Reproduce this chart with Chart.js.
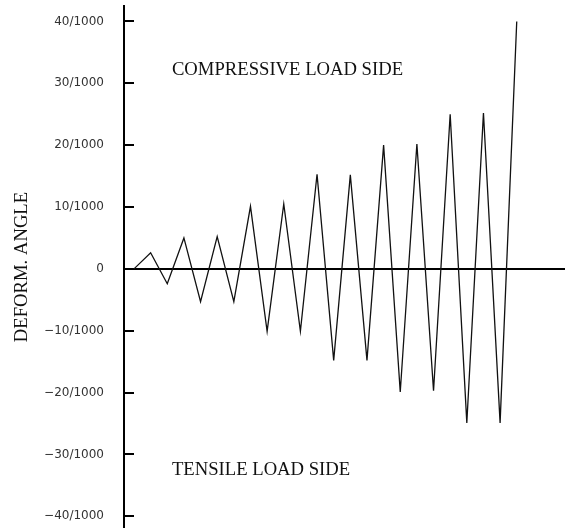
<!DOCTYPE html>
<html>
<head>
<meta charset="utf-8">
<script src="https://cdn.jsdelivr.net/npm/chart.js@4/dist/chart.umd.min.js"></script>
<style>
  html, body { margin: 0; padding: 0; background: #fff; }
  #wrap { width: 565px; height: 528px; }
</style>
</head>
<body>
<div id="wrap"><canvas id="deformChart"></canvas></div>
<script>
// loading steps (x) and deformation angle in 1/1000 rad (y)
const steps = [0, 1, 2, 3, 4, 5, 6, 7, 8, 9, 10, 11, 12, 13, 14, 15, 16, 17, 18, 19, 20, 21, 22, 23];
const angle = [0, 2.6, -2.4, 5.0, -5.3, 5.2, -5.3, 10.1, -10.1, 10.5, -10.1, 15.3, -14.8, 15.2, -14.8,
               20.0, -19.9, 20.2, -19.7, 25.0, -24.9, 25.2, -24.9, 40.0];

const tickValues = [40, 30, 20, 10, 0, -10, -20, -30, -40];
const tickLabels = ['40/1000', '30/1000', '20/1000', '10/1000', '0',
                    '\u221210/1000', '\u221220/1000', '\u221230/1000', '\u221240/1000'];

const sideNotes = [
    { text: 'COMPRESSIVE LOAD SIDE', x: 2.28, y: 32.2 },
    { text: 'TENSILE LOAD SIDE', x: 2.28, y: -32.6 }
];

const serif = '"Liberation Serif", "Times New Roman", serif';

// side labels placed through the scales
const notesPlugin = {
    id: 'sideNotes',
    afterDatasetsDraw(chart) {
        const ctx = chart.ctx;
        const xs = chart.scales.x, ys = chart.scales.y;
        ctx.save();
        ctx.font = '18.67px ' + serif;
        ctx.fillStyle = '#111';
        ctx.textAlign = 'left';
        ctx.textBaseline = 'middle';
        sideNotes.forEach(n => {
            ctx.fillText(n.text, xs.getPixelForValue(n.x), ys.getPixelForValue(n.y));
        });
        ctx.restore();
    }
};

new Chart(document.getElementById('deformChart').getContext('2d'), {
    type: 'line',
    data: {
        datasets: [{
            data: steps.map((s, i) => ({ x: s, y: angle[i] })),
            borderColor: '#111',
            borderWidth: 1.3,
            pointRadius: 0,
            tension: 0,
            fill: false
        }]
    },
    options: {
        responsive: true,
        maintainAspectRatio: false,
        animation: false,
        layout: { padding: { top: 6, right: 0, bottom: 0, left: 0 } },
        plugins: {
            legend: { display: false },
            tooltip: { enabled: false }
        },
        scales: {
            x: {
                type: 'linear',
                display: false,
                min: -0.6,
                max: 25.9
            },
            y: {
                min: -41.9,
                max: 42.5,
                afterBuildTicks: scale => {
                    scale.ticks = tickValues.map(v => ({ value: v }));
                },
                afterFit: scale => {
                    scale.width = 124;
                    scale.paddingTop = 0;
                    scale.paddingBottom = 0;
                },
                border: { display: true, color: '#000', width: 2 },
                grid: {
                    drawTicks: true,
                    tickLength: -10,
                    tickColor: '#000',
                    tickWidth: 2,
                    // only the zero line is drawn across the plot
                    color: ctx => ctx.tick && ctx.tick.value === 0 ? '#000' : 'rgba(0,0,0,0)',
                    lineWidth: ctx => ctx.tick && ctx.tick.value === 0 ? 2 : 0
                },
                ticks: {
                    padding: 30,
                    color: '#333',
                    font: { family: '"DejaVu Sans", sans-serif', size: 12 },
                    callback: v => tickLabels[tickValues.indexOf(v)]
                },
                title: {
                    display: true,
                    text: 'DEFORM. ANGLE',
                    color: '#111',
                    font: { family: serif, size: 18.67 },
                    padding: { top: 11, bottom: 0 }
                }
            }
        }
    },
    plugins: [notesPlugin]
});
</script>
</body>
</html>
